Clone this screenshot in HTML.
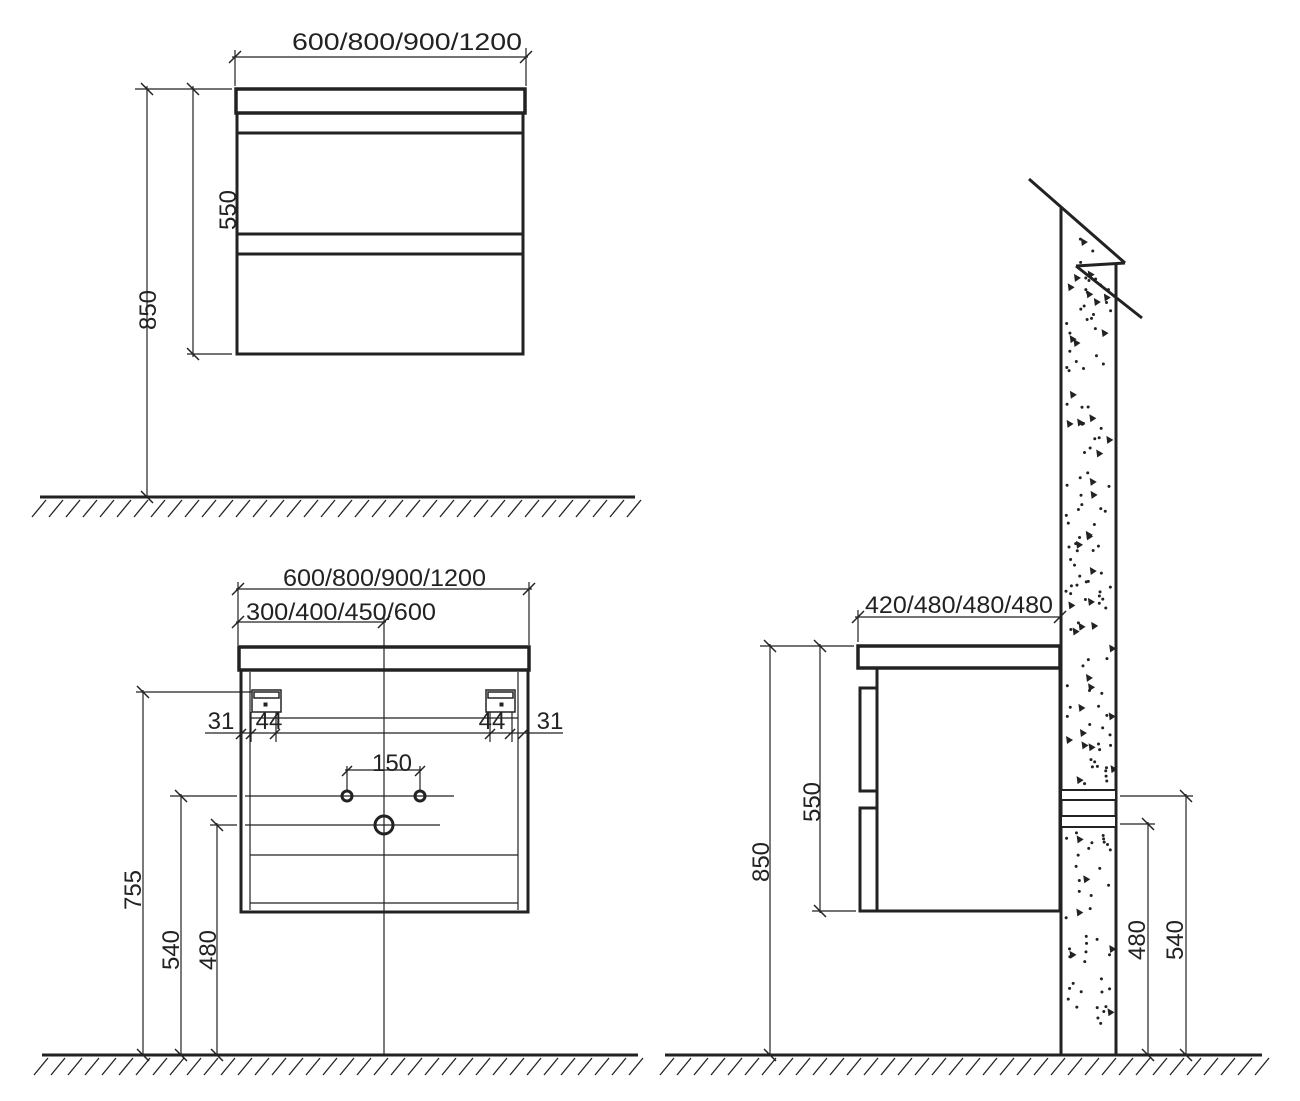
<!DOCTYPE html>
<html><head><meta charset="utf-8"><style>
html,body{margin:0;padding:0;background:#fff}
svg{display:block}
text{font-family:"Liberation Sans",sans-serif;font-size:24px;fill:#222}
</style></head><body>
<svg id="s" width="1300" height="1101" viewBox="0 0 1300 1101" xmlns="http://www.w3.org/2000/svg">
<g stroke="#222" fill="none">
<rect x="236" y="89" width="289" height="24" stroke-width="3.5"/>
<rect x="237" y="113" width="286" height="241" stroke-width="3"/>
<line x1="237" y1="133" x2="523" y2="133" stroke-width="3"/>
<line x1="237" y1="234" x2="523" y2="234" stroke-width="3"/>
<line x1="237" y1="254" x2="523" y2="254" stroke-width="3"/>
<g stroke-width="1.2">
<line x1="232" y1="57" x2="528" y2="57"/><line x1="235" y1="50" x2="235" y2="86"/><line x1="526" y1="48" x2="526" y2="86"/>
<line x1="135" y1="89" x2="232" y2="89"/><line x1="147" y1="86" x2="147" y2="497"/><line x1="193" y1="86" x2="193" y2="357"/>
<line x1="187" y1="354" x2="232" y2="354"/>
</g>
<g stroke-width="1.5">
<line x1="229" y1="63" x2="241" y2="51"/><line x1="520" y1="63" x2="532" y2="51"/>
<line x1="141" y1="83" x2="153" y2="95"/><line x1="187" y1="83" x2="199" y2="95"/><line x1="187" y1="348" x2="199" y2="360"/>
<line x1="141" y1="491" x2="153" y2="503"/>
</g>
<line x1="40" y1="497" x2="635" y2="497" stroke-width="3"/>

<rect x="239" y="647" width="290" height="23" stroke-width="3.5"/>
<rect x="241" y="670" width="287" height="242" stroke-width="3"/>
<g stroke-width="1.2">
<line x1="250" y1="672" x2="250" y2="910"/><line x1="518" y1="672" x2="518" y2="910"/>
<line x1="250" y1="855" x2="518" y2="855"/><line x1="250" y1="903" x2="518" y2="903"/>
<line x1="384" y1="610" x2="384" y2="1055"/>
<line x1="236" y1="589" x2="532" y2="589"/><line x1="238" y1="582" x2="238" y2="645"/><line x1="529" y1="582" x2="529" y2="645"/>
<line x1="236" y1="622" x2="386" y2="622"/>
<line x1="136" y1="692" x2="252" y2="692"/><line x1="143" y1="690" x2="143" y2="1055"/>
<line x1="205" y1="733" x2="563" y2="733"/><line x1="250" y1="718" x2="518" y2="718"/>
<line x1="251" y1="712" x2="251" y2="742"/><line x1="276" y1="712" x2="276" y2="742"/>
<line x1="490" y1="712" x2="490" y2="742"/><line x1="512" y1="712" x2="512" y2="742"/>
<line x1="345" y1="770" x2="422" y2="770"/><line x1="347" y1="766" x2="347" y2="792"/><line x1="420" y1="766" x2="420" y2="792"/>
<line x1="170" y1="796" x2="237" y2="796"/><line x1="245" y1="796" x2="454" y2="796"/>
<line x1="210" y1="825" x2="237" y2="825"/><line x1="245" y1="825" x2="440" y2="825"/>
<line x1="181" y1="794" x2="181" y2="1055"/><line x1="217" y1="823" x2="217" y2="1055"/>
</g>
<g stroke-width="1.5">
<line x1="232" y1="595" x2="244" y2="583"/><line x1="523" y1="595" x2="535" y2="583"/>
<line x1="232" y1="628" x2="244" y2="616"/><line x1="378" y1="628" x2="390" y2="616"/>
<line x1="137" y1="686" x2="149" y2="698"/>
<line x1="236" y1="739" x2="246" y2="729"/><line x1="246" y1="739" x2="256" y2="729"/><line x1="270" y1="739" x2="280" y2="729"/>
<line x1="485" y1="739" x2="495" y2="729"/><line x1="505" y1="739" x2="515" y2="729"/><line x1="518" y1="739" x2="528" y2="729"/>
<line x1="342" y1="776" x2="352" y2="766"/><line x1="415" y1="776" x2="425" y2="766"/>
<line x1="175" y1="790" x2="187" y2="802"/><line x1="211" y1="819" x2="223" y2="831"/>
<line x1="137" y1="1049" x2="149" y2="1061"/><line x1="175" y1="1049" x2="187" y2="1061"/><line x1="211" y1="1049" x2="223" y2="1061"/>
</g>
<circle cx="347" cy="796" r="5" stroke-width="3"/><circle cx="420" cy="796" r="5" stroke-width="3"/>
<circle cx="384" cy="825" r="9" stroke-width="3"/>
<g stroke-width="1.5">
<rect x="252" y="690" width="29" height="22"/><rect x="254" y="692" width="25" height="6"/>
<rect x="486" y="690" width="29" height="22"/><rect x="488" y="692" width="25" height="6"/>
</g>
<rect x="264" y="703" width="3" height="3" fill="#222"/><rect x="500" y="703" width="3" height="3" fill="#222"/>
<line x1="42" y1="1055" x2="638" y2="1055" stroke-width="3"/>

<rect x="858" y="646" width="202" height="22" stroke-width="3.5"/>
<rect x="877" y="668" width="183" height="243" stroke-width="3"/>
<rect x="860" y="688" width="17" height="103" stroke-width="3"/>
<rect x="860" y="808" width="17" height="103" stroke-width="3"/>
<g stroke-width="1.2">
<line x1="855" y1="617" x2="1062" y2="617"/><line x1="858" y1="610" x2="858" y2="642"/>
<line x1="760" y1="646" x2="854" y2="646"/><line x1="770" y1="644" x2="770" y2="1055"/><line x1="820" y1="644" x2="820" y2="913"/>
<line x1="812" y1="911" x2="856" y2="911"/>
<line x1="1120" y1="796" x2="1193" y2="796"/><line x1="1120" y1="824" x2="1155" y2="824"/>
<line x1="1186" y1="794" x2="1186" y2="1055"/><line x1="1148" y1="822" x2="1148" y2="1055"/>
</g>
<g stroke-width="1.5">
<line x1="852" y1="623" x2="864" y2="611"/><line x1="1054" y1="623" x2="1066" y2="611"/>
<line x1="764" y1="640" x2="776" y2="652"/><line x1="814" y1="640" x2="826" y2="652"/><line x1="814" y1="905" x2="826" y2="917"/>
<line x1="1180" y1="790" x2="1192" y2="802"/><line x1="1142" y1="818" x2="1154" y2="830"/>
<line x1="764" y1="1049" x2="776" y2="1061"/><line x1="1142" y1="1049" x2="1154" y2="1061"/><line x1="1180" y1="1049" x2="1192" y2="1061"/>
</g>
<line x1="1061" y1="208" x2="1061" y2="1055" stroke-width="3"/>
<line x1="1116" y1="265" x2="1116" y2="1055" stroke-width="3"/>
<line x1="1029" y1="179" x2="1125" y2="263" stroke-width="3"/>
<line x1="1076" y1="266" x2="1125" y2="263" stroke-width="3"/>
<line x1="1076" y1="266" x2="1142" y2="318" stroke-width="3"/>
<rect x="1061" y="790" width="55" height="10" fill="#fff" stroke-width="2"/>
<rect x="1061" y="816" width="55" height="11" fill="#fff" stroke-width="2"/>
<line x1="665" y1="1055" x2="1262" y2="1055" stroke-width="3"/>
<g id="hatch" stroke-width="1.3"></g>
</g>
<g id="dots" fill="#222"></g>
<text x="292" y="50" textLength="230" lengthAdjust="spacingAndGlyphs">600/800/900/1200</text>
<text transform="translate(236,210) rotate(-90)" text-anchor="middle">550</text>
<text transform="translate(156,310) rotate(-90)" text-anchor="middle">850</text>
<text x="283" y="586" textLength="203" lengthAdjust="spacingAndGlyphs">600/800/900/1200</text>
<text x="246" y="620" textLength="190" lengthAdjust="spacingAndGlyphs">300/400/450/600</text>
<text x="221" y="729" text-anchor="middle">31</text>
<text x="269" y="729" text-anchor="middle">44</text>
<text x="492" y="729" text-anchor="middle">44</text>
<text x="550" y="729" text-anchor="middle">31</text>
<text x="392" y="771" text-anchor="middle">150</text>
<text transform="translate(141,890) rotate(-90)" text-anchor="middle">755</text>
<text transform="translate(179,950) rotate(-90)" text-anchor="middle">540</text>
<text transform="translate(216,950) rotate(-90)" text-anchor="middle">480</text>
<text x="865" y="613" textLength="188" lengthAdjust="spacingAndGlyphs">420/480/480/480</text>
<text transform="translate(769,862) rotate(-90)" text-anchor="middle">850</text>
<text transform="translate(820,802) rotate(-90)" text-anchor="middle">550</text>
<text transform="translate(1145,940) rotate(-90)" text-anchor="middle">480</text>
<text transform="translate(1183,940) rotate(-90)" text-anchor="middle">540</text>
</svg>
<script>
var ns="http://www.w3.org/2000/svg",h=document.getElementById("hatch"),d=document.getElementById("dots");
function hat(x0,x1,y){for(var x=x0;x<x1;x+=17){var l=document.createElementNS(ns,"line");l.setAttribute("x1",x);l.setAttribute("y1",y+20);l.setAttribute("x2",x+14);l.setAttribute("y2",y+3);h.appendChild(l);}}
hat(32,630,497);hat(34,632,1055);hat(660,1258,1055);
var s=7;function r(){s=(s*9301+49297)%233280;return s/233280;}
for(var i=0;i<200;i++){var x=1066+r()*45,y=215+r()*835;if(y>786&&y<830)continue;if(y<270&&x>1061+(y-208)*0.9)continue;
if(r()<0.18){var p=document.createElementNS(ns,"polygon");p.setAttribute("points",x+","+y+" "+(x+7)+","+(y+4)+" "+(x+1)+","+(y+8));d.appendChild(p);}
else{var c=document.createElementNS(ns,"circle");c.setAttribute("cx",x);c.setAttribute("cy",y);c.setAttribute("r",1.5);d.appendChild(c);}}
</script>
</body></html>
